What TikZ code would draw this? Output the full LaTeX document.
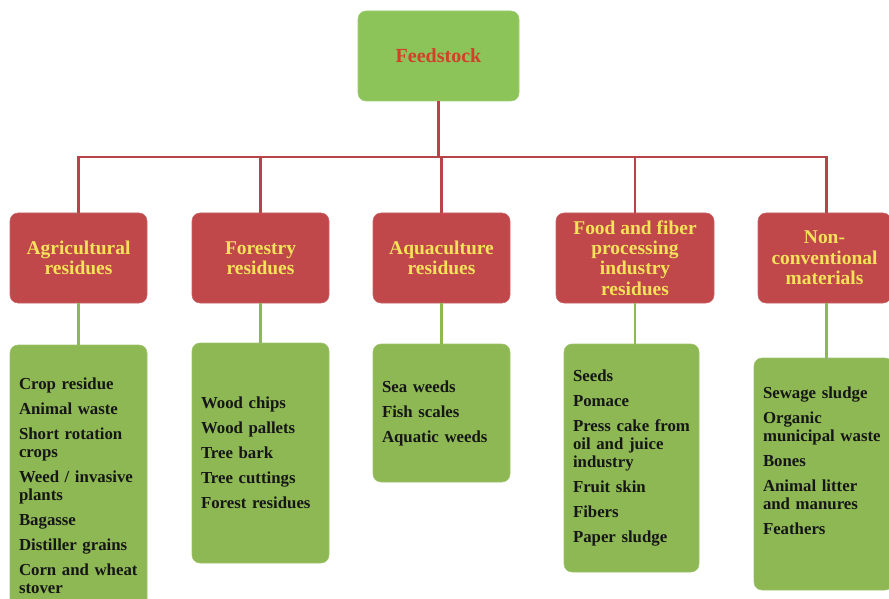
\documentclass[tikz,border=0pt]{standalone}
\usepackage{fontspec}
\setmainfont{Liberation Serif}
\begin{document}
\definecolor{topgreen}{HTML}{8CC45A}
\definecolor{boxgreen}{HTML}{8DB853}
\definecolor{catred}{HTML}{C0474A}
\definecolor{linered}{HTML}{B8444A}
\definecolor{catyellow}{HTML}{F3E25A}
\definecolor{titlered}{HTML}{D2402A}
\definecolor{itemtext}{HTML}{161616}
\newcommand{\itm}{\\[5.25pt]}
\begin{tikzpicture}[x=0.75pt,y=-0.75pt,
  boxsize/.style 2 args={minimum width=#1*0.75pt, minimum height=#2*0.75pt},
  rootbox/.style={fill=topgreen, draw=topgreen!85!white, rounded corners=6pt,
    inner sep=0pt, align=center, text=titlered,
    font=\fontsize{15}{16}\selectfont\bfseries},
  catbox/.style={fill=catred, draw=catred!85!white, rounded corners=6pt,
    inner sep=0pt, align=center, text=catyellow,
    font=\fontsize{14.6}{15.3}\selectfont\bfseries},
  itembox/.style={fill=boxgreen, draw=boxgreen!85!white, rounded corners=6pt,
    inner xsep=6.75pt, inner ysep=0pt, text width=#1*0.75pt-13.5pt, align=left,
    text=itemtext, font=\fontsize{12.6}{13.5}\selectfont\bfseries},
  redline/.style={draw=linered, line width=1.6pt},
  greenline/.style={draw=boxgreen, line width=1.6pt}]
\useasboundingbox (0,0) rectangle (889,599);
\clip (0,0) rectangle (889,599);

% root
\node[rootbox, boxsize={161}{90}] (feed) at (438.5,56) {Feedstock};

% categories
\node[catbox, boxsize={137}{90}] (agri)   at (78.5,258)  {Agricultural\\residues};
\node[catbox, boxsize={137}{90}] (forest) at (260.5,258) {Forestry\\residues};
\node[catbox, boxsize={137}{90}] (aqua)   at (441.5,258) {Aquaculture\\residues};
\node[catbox, boxsize={158}{90}] (food)   at (635,258)   {Food and fiber\\processing\\industry\\residues};
\node[catbox, boxsize={133}{90}] (nonc)   at (824.5,258) {Non-\\conventional\\materials};

% item lists
\node[itembox=137, boxsize={137}{282}] (gagri) at (78.5,486)
  {Crop residue\itm Animal waste\itm Short rotation\\crops\itm Weed / invasive\\plants\itm
   Bagasse\itm Distiller grains\itm Corn and wheat\\stover};
\node[itembox=137, boxsize={137}{220}] (gforest) at (260.5,453)
  {Wood chips\itm Wood pallets\itm Tree bark\itm Tree cuttings\itm Forest residues};
\node[itembox=137, boxsize={137}{138}] (gaqua) at (441.5,413)
  {Sea weeds\itm Fish scales\itm Aquatic weeds};
\node[itembox=135, boxsize={135}{228}] (gfood) at (631.5,458)
  {Seeds\itm Pomace\itm Press cake from\\oil and juice\\industry\itm Fruit skin\itm Fibers\itm Paper sludge};
% the list sits a little above the middle of its box
\node[itembox=139, boxsize={139}{232}] (gnon) at (823.5,474)
  {Sewage sludge\itm Organic\\municipal waste\itm Bones\itm Animal litter\\and manures\itm Feathers\\[6.5pt]\mbox{}};

% red tree connectors
\coordinate (bus) at (438.5,157);
\draw[redline] (feed.south) -- (bus);
\draw[redline] (agri.north) -- (agri.north |- bus) -- ([xshift=1.5pt]nonc.north |- bus) -- ([xshift=1.5pt]nonc.north);
\draw[redline] (forest.north) -- (forest.north |- bus);
\draw[redline] (aqua.north) -- (aqua.north |- bus);
\draw[redline] (food.north) -- (food.north |- bus);

% green connectors
\draw[greenline] (agri.south) -- (gagri.north);
\draw[greenline] (forest.south) -- (gforest.north);
\draw[greenline] (aqua.south) -- (gaqua.north);
\draw[greenline] (food.south) -- (food.south |- gfood.north);
\draw[greenline] ([xshift=1.5pt]nonc.south) -- ([xshift=1.5pt]nonc.south |- gnon.north);
\end{tikzpicture}
\end{document}
